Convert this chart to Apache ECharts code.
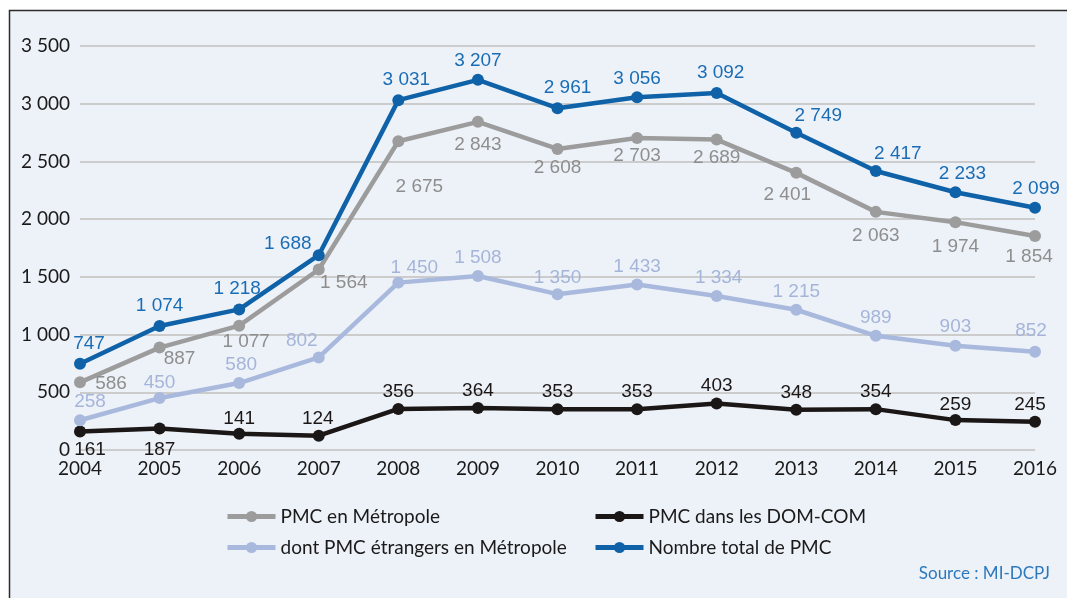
<!DOCTYPE html>
<html>
<head>
<meta charset="utf-8">
<script src="https://cdn.jsdelivr.net/npm/echarts@6/dist/echarts.min.js"></script>
<style>
html, body { margin: 0; padding: 0; background: #ffffff; }
#chart { width: 1067px; height: 598px; }
</style>
</head>
<body>
<div id="chart"></div>
<script>
var years = ['2004','2005','2006','2007','2008','2009','2010','2011','2012','2013','2014','2015','2016'];
var metropole = [586, 887, 1077, 1564, 2675, 2843, 2608, 2703, 2689, 2401, 2063, 1974, 1854];
var domcom = [161, 187, 141, 124, 356, 364, 353, 353, 403, 348, 354, 259, 245];
var etrangers = [258, 450, 580, 802, 1450, 1508, 1350, 1433, 1334, 1215, 989, 903, 852];
var total = [747, 1074, 1218, 1688, 3031, 3207, 2961, 3056, 3092, 2749, 2417, 2233, 2099];

// label placement (offset from the point centre), per series
var offMetropole = [[31,1],[20,11],[7,16],[25,13],[21,46],[0,23],[0,19],[0,18],[0,18],[-9,22],[0,24],[0,25],[-6,21]];
var offDomcom = [[10,18],[0,21],[0,-15],[-1,-17],[0,-17],[0,-17],[0,-17],[0,-17],[0,-18],[0,-17],[0,-17],[0,-15],[-5,-17]];
var offEtrangers = [[10,-18],[0,-15],[2,-18],[-17,-17],[16,-15],[0,-18],[0,-16],[0,-18],[2,-18],[0,-18],[0,-18],[0,-19],[-4,-21]];
var offTotal = [[9,-20],[0,-20],[-2,-21],[-31,-11],[8,-20],[0,-19],[10,-20],[0,-18],[4,-20],[22,-17],[22,-17],[7,-18],[1,-19]];

function fmt(v){
	return String(v).replace(/\B(?=(\d{3})+(?!\d))/g, ' ');
}

function build(values, offsets, color){
	return values.map(function(v, i){
		return {
			value: v,
			label: {show: true, position: 'inside', offset: offsets[i], color: color}
		};
	});
}

function line(name, values, offsets, color, labelColor){
	return {
		name: name,
		type: 'line',
		symbol: 'circle',
		symbolSize: 12,
		color: color,
		lineStyle: {width: 4.5, color: color},
		itemStyle: {color: color},
		label: {
			show: true,
			fontFamily: 'Liberation Sans',
			fontSize: 19,
			formatter: function(p){ return fmt(p.value); }
		},
		emphasis: {disabled: true},
		data: build(values, offsets, labelColor)
	};
}

var legendBase = {
	orient: 'vertical',
	top: 502,
	itemWidth: 48,
	itemHeight: 14,
	itemGap: 12,
	lineStyle: {width: 5},
	textStyle: {fontFamily: 'Lato', fontSize: 19, color: '#1a1a1a'}
};

var chart = echarts.init(document.getElementById('chart'));
var option = {
	animation: false,
	backgroundColor: '#ffffff',
	graphic: [
		{
			type: 'rect',
			z: -10,
			shape: {x: 9.5, y: 10.5, width: 1070, height: 600},
			style: {fill: '#edf2f9', stroke: '#2b2b2b', lineWidth: 1.5}
		},
		{
			type: 'text',
			right: 17,
			top: 565,
			style: {
				text: 'Source : MI-DCPJ',
				font: '17px Lato',
				fill: '#2c78bd'
			}
		}
	],
	grid: {left: 80, right: 32, top: 46, bottom: 148},
	legend: [
		Object.assign({}, legendBase, {left: 220, data: ['PMC en Métropole', 'dont PMC étrangers en Métropole']}),
		Object.assign({}, legendBase, {left: 588, data: ['PMC dans les DOM-COM', 'Nombre total de PMC']})
	],
	xAxis: {
		type: 'category',
		boundaryGap: false,
		data: years,
		axisLine: {show: false},
		axisTick: {show: false},
		axisLabel: {fontFamily: 'Lato', fontSize: 19, color: '#1a1a1a', margin: 9}
	},
	yAxis: {
		type: 'value',
		min: 0,
		max: 3500,
		interval: 500,
		axisLine: {show: false},
		axisTick: {show: false},
		axisLabel: {
			fontFamily: 'Lato', fontSize: 19, color: '#1a1a1a', margin: 10,
			formatter: function(v){ return fmt(v); }
		},
		splitLine: {lineStyle: {color: '#cccccc', width: 2}}
	},
	series: [
		line('PMC en Métropole', metropole, offMetropole, '#9c9c9c', '#8e8e8e'),
		line('PMC dans les DOM-COM', domcom, offDomcom, '#1b1716', '#1b1716'),
		line('dont PMC étrangers en Métropole', etrangers, offEtrangers, '#a9b9dd', '#a5b5da'),
		line('Nombre total de PMC', total, offTotal, '#0f62a8', '#1a6db5')
	]
};
chart.setOption(option);
</script>
</body>
</html>
